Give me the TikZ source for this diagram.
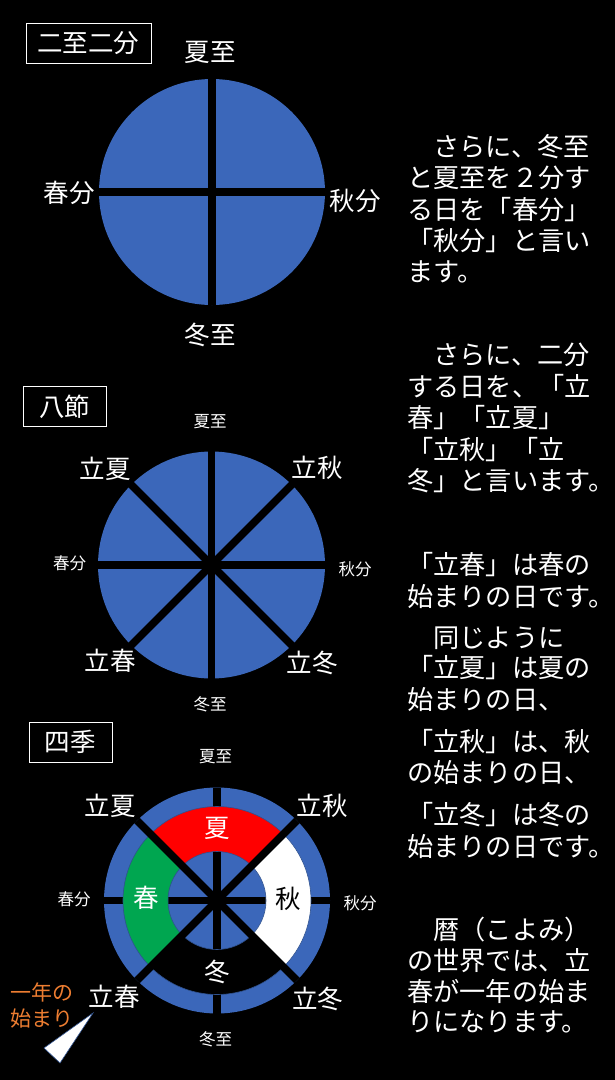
\documentclass[tikz,border=0pt]{standalone}
\usepackage{fontspec}
\newfontfamily\jp{Noto Sans CJK JP}
\definecolor{disk}{RGB}{59,103,186}
\definecolor{edge}{RGB}{47,82,143}
\definecolor{sgreen}{RGB}{0,166,80}
\definecolor{orng}{RGB}{237,125,49}
\begin{document}
\begin{tikzpicture}[x=1pt,y=-1pt,
 big/.style={text=white,inner sep=0pt,font=\jp\fontsize{25.5}{25.5}\selectfont},
 small/.style={text=white,inner sep=0pt,font=\jp\fontsize{16.5}{16.5}\selectfont},
 titlebox/.style={draw=white,line width=1pt,text=white,inner sep=0pt,minimum height=40pt,font=\jp\fontsize{25.5}{25.5}\selectfont},
 txt/.style={text=white,anchor=base west,inner sep=0pt,font=\jp\fontsize{26.2}{31}\selectfont},
 spoke/.style={black,line width=7.5pt},
 sector/.style={draw=edge,line width=0.6pt},
 note/.style={text=orng,anchor=base west,inner sep=0pt,font=\jp\fontsize{21}{21}\selectfont}]
\fill[black] (0,0) rectangle (615,1080);
\useasboundingbox (0,0) rectangle (615,1080);

% ---------- diagram 1 ----------
\node[titlebox,minimum width=125pt] (title1) at (88.5,43) {二至二分};
\begin{scope}[shift={(212,192)}]
 \coordinate (c1) at (0,0);
 \fill[disk] (c1) circle[radius=113pt];
 \foreach \a in {0,90} \draw[spoke] (\a:113pt) -- (\a+180:113pt);
\end{scope}
\node[big] (a1) at (210,52) {夏至};
\node[big] (a2) at (69,193) {春分};
\node[big] (a3) at (355,201) {秋分};
\node[big] (a4) at (210,335) {冬至};

% ---------- diagram 2 ----------
\node[titlebox,minimum width=83pt] (title2) at (64.5,406.5) {八節};
\begin{scope}[shift={(211.5,565)}]
 \coordinate (c2) at (0,0);
 \fill[disk] (c2) circle[radius=113.5pt];
 \foreach \a in {0,45,90,135} \draw[spoke] (\a:114pt) -- (\a+180:114pt);
\end{scope}
\node[small] (b1) at (210,422) {夏至};
\node[small] (b2) at (69.5,563) {春分};
\node[small] (b3) at (355,569) {秋分};
\node[small] (b4) at (210,704) {冬至};
\node[big] (b5) at (105,469) {立夏};
\node[big] (b6) at (317,468) {立秋};
\node[big] (b7) at (110,661) {立春};
\node[big] (b8) at (312,663) {立冬};

% ---------- diagram 3 ----------
\node[titlebox,minimum width=83pt] (title3) at (70.5,742) {四季};
\begin{scope}[shift={(217,900.5)}]
 \coordinate (c3) at (0,0);
 \fill[disk] (c3) circle[radius=113pt];
 \foreach \a in {0,90} \draw[spoke] (\a:113pt) -- (\a+180:113pt);
 \filldraw[sector,fill=red] (45:49pt) arc[start angle=45,end angle=135,radius=49pt] -- (135:94pt) arc[start angle=135,end angle=45,radius=94pt] -- cycle;
 \filldraw[sector,fill=sgreen] (135:49pt) arc[start angle=135,end angle=225,radius=49pt] -- (225:94pt) arc[start angle=225,end angle=135,radius=94pt] -- cycle;
 \filldraw[sector,fill=black] (225:49pt) arc[start angle=225,end angle=315,radius=49pt] -- (315:94pt) arc[start angle=315,end angle=225,radius=94pt] -- cycle;
 \filldraw[sector,fill=white] (-45:49pt) arc[start angle=-45,end angle=45,radius=49pt] -- (45:94pt) arc[start angle=45,end angle=-45,radius=94pt] -- cycle;
 \foreach \a in {45,135} \draw[spoke] (\a:113pt) -- (\a+180:113pt);
\end{scope}
\node[big] (s1) at (217,828) {夏};
\node[big] (s2) at (146,898) {春};
\node[big,text=black] (s3) at (288,899) {秋};
\node[big] (s4) at (217,972) {冬};
\node[small] (d1) at (215.5,757) {夏至};
\node[small] (d2) at (74,899) {春分};
\node[small] (d3) at (360,903) {秋分};
\node[small] (d4) at (215.5,1039) {冬至};
\node[big] (d5) at (110,806) {立夏};
\node[big] (d6) at (322,806) {立秋};
\node[big] (d7) at (114,997) {立春};
\node[big] (d8) at (317.5,999) {立冬};
\node[note] (n1) at (10,1000) {一年の};
\node[note] (n2) at (10,1026) {始まり};
\coordinate (p1) at (44,1048);
\coordinate (p2) at (60,1063);
\coordinate (p3) at (93,1013);
\filldraw[fill=white,draw=edge,line width=0.6pt] (p1) -- (p2) -- (p3) -- cycle;

% ---------- right text ----------
\node[txt] (t1) at (407,156) {　さらに、冬至};
\node[txt] (t2) at (407,187) {と夏至を２分す};
\node[txt] (t3) at (407,219) {る日を「春分」};
\node[txt] (t4) at (407,250) {「秋分」と言い};
\node[txt] (t5) at (407,281) {ます。};

\node[txt] (t6) at (407,364) {　さらに、二分};
\node[txt] (t7) at (407,396) {する日を、「立};
\node[txt] (t8) at (407,427) {春」「立夏」};
\node[txt] (t9) at (407,459) {「立秋」「立};
\node[txt] (t10) at (407,490) {冬」と言います。};

\node[txt] (t11) at (407,574) {「立春」は春の};
\node[txt] (t12) at (407,606) {始まりの日です。};

\node[txt] (t13) at (407,647) {　同じように};
\node[txt] (t14) at (407,677) {「立夏」は夏の};
\node[txt] (t15) at (407,709) {始まりの日、};

\node[txt] (t16) at (407,751) {「立秋」は、秋};
\node[txt] (t17) at (407,782) {の始まりの日、};

\node[txt] (t18) at (407,824) {「立冬」は冬の};
\node[txt] (t19) at (407,856) {始まりの日です。};

\node[txt] (t20) at (407,939) {　暦（こよみ）};
\node[txt] (t21) at (407,970) {の世界では、立};
\node[txt] (t22) at (407,1001) {春が一年の始ま};
\node[txt] (t23) at (407,1031) {りになります。};
\end{tikzpicture}
\end{document}
